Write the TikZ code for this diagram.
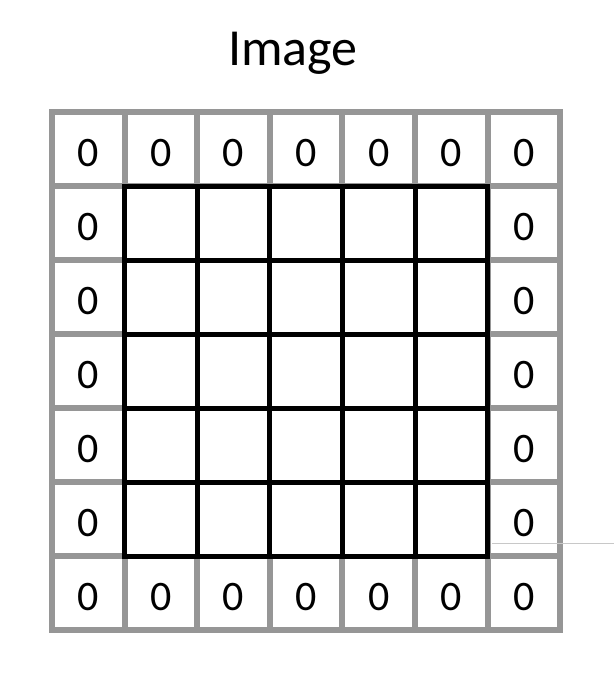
\documentclass[tikz,border=0pt]{standalone}
\usepackage{fontspec}
\setmainfont{Carlito}
\definecolor{gridgray}{RGB}{150,150,150}
\definecolor{faint}{RGB}{200,200,200}
\begin{document}
\begin{tikzpicture}[x=1pt,y=-1pt,
  graygrid/.style={draw=gridgray,line width=6pt,line cap=rect},
  blackgrid/.style={draw=black,line width=5pt,line cap=rect},
  zero/.style={font=\fontsize{42}{42}\selectfont,inner sep=0pt,anchor=center},
  titletext/.style={font=\fontsize{52}{52}\selectfont,inner sep=0pt,anchor=base}]
\useasboundingbox[fill=white] (0,0) rectangle (614,683);
\pgfmathsetmacro{\cw}{72.6}
\pgfmathsetmacro{\ch}{74}
% gray outer grid
\foreach \i in {0,...,7}{
  \draw[graygrid] ({52+\i*\cw},112) -- ({52+\i*\cw},630);
  \draw[graygrid] (52,{112+\i*\ch}) -- (560,{112+\i*\ch});
}
% white inner area
\fill[white] ({52+\cw+2.5},{112+\ch+2.5}) rectangle ({52+6*\cw-2.5},{112+6*\ch-2.5});
% black inner grid
\foreach \i in {1,...,6}{
  \draw[blackgrid] ({52+\i*\cw},{112+\ch}) -- ({52+\i*\cw},{112+6*\ch});
  \draw[blackgrid] ({52+\cw},{112+\i*\ch}) -- ({52+6*\cw},{112+\i*\ch});
}
% faint line at right
\draw[faint,line width=0.8pt] (492,543) -- (614,543);
% title
\node[titletext] (title) at (293,65) {Image};
% zeros
\foreach \c in {0,...,6}{
  \node[zero] (top-\c) at ({52+(\c+0.5)*\cw},{112+0.5*\ch+4}) {0};
  \node[zero] (bot-\c) at ({52+(\c+0.5)*\cw},{112+6.5*\ch+4}) {0};
}
\foreach \r in {1,...,5}{
  \node[zero] (left-\r) at ({52+0.5*\cw},{112+(\r+0.5)*\ch+4}) {0};
  \node[zero] (right-\r) at ({52+6.5*\cw},{112+(\r+0.5)*\ch+4}) {0};
}
\end{tikzpicture}
\end{document}
